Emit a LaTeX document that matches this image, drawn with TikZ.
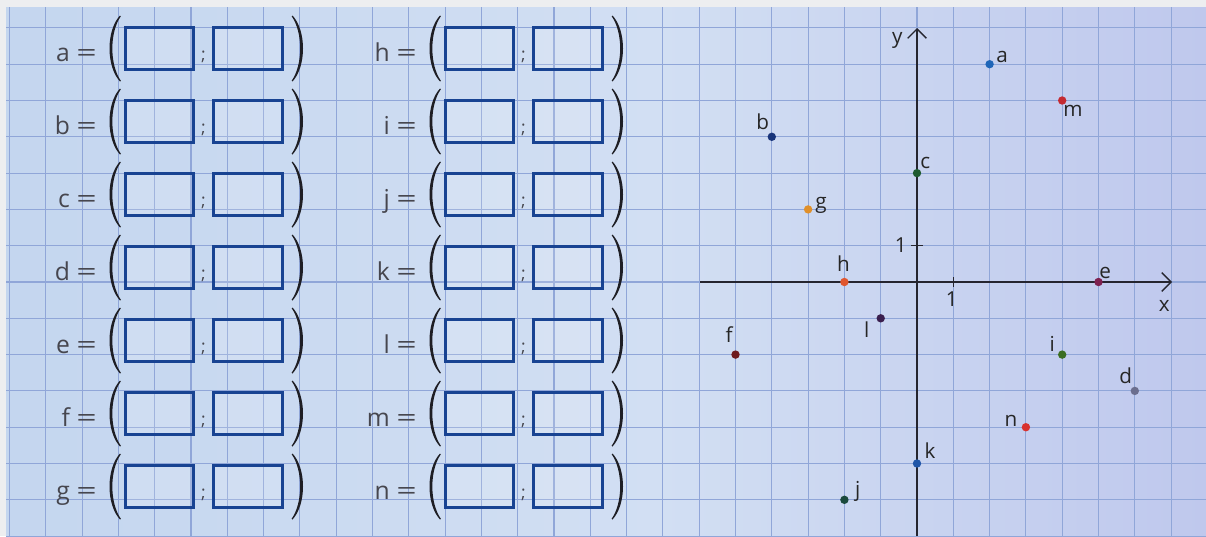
\documentclass[tikz,border=0pt]{standalone}
\usepackage{fontspec}
\setmainfont{Open Sans}
\usetikzlibrary{arrows.meta}
\definecolor{bgL}{HTML}{C4D6EF}
\definecolor{bgM}{HTML}{D2DFF3}
\definecolor{bgR}{HTML}{BFC8ED}
\definecolor{edgec}{HTML}{EDEEF0}
\definecolor{gridc}{HTML}{90A6D8}
\definecolor{boxc}{HTML}{184392}
\definecolor{parc}{HTML}{1E1E24}
\definecolor{txtc}{HTML}{46464E}
\definecolor{axc}{HTML}{25252F}
\definecolor{ca}{HTML}{1F66B8}
\definecolor{cb}{HTML}{18347A}
\definecolor{cc}{HTML}{1E5A30}
\definecolor{cd}{HTML}{6B6E8E}
\definecolor{ce}{HTML}{7E2150}
\definecolor{cf}{HTML}{6E1A1E}
\definecolor{cg}{HTML}{E0902A}
\definecolor{ch}{HTML}{E0562E}
\definecolor{ci}{HTML}{3B6E22}
\definecolor{cj}{HTML}{1B4A3C}
\definecolor{ck}{HTML}{1F55A8}
\definecolor{cl}{HTML}{3A1E4E}
\definecolor{cm}{HTML}{C42A32}
\definecolor{cn}{HTML}{D8322E}
\tikzset{
  gridline/.style={draw=gridc, line width=0.8pt},
  ansbox/.style={draw=boxc, line width=2.2pt, fill=white, fill opacity=0.15, text opacity=1,
    minimum width=51.5pt, minimum height=31.5pt, inner sep=0pt},
  eqlbl/.style={anchor=base east, text=txtc, font=\fontsize{18.5}{20}\selectfont, inner sep=0pt},
  semi/.style={anchor=base, text=txtc, font=\fontsize{13}{15}\selectfont, inner sep=0pt},
  dotp/.style={circle, inner sep=0pt, minimum size=6.3pt},
  plbl/.style={anchor=base, text=black!85, font=\fontsize{15.5}{17}\selectfont, inner sep=0pt},
  axis/.style={draw=axc, line width=1pt},
  lparen/.pic={\fill[parc] (6,-33) .. controls (-8,-18) and (-8,18) .. (6,33) -- (6.8,32.2) .. controls (-4.5,16) and (-4.5,-16) .. (6.8,-32.2) -- cycle;},
  rparen/.pic={\fill[parc] (-6,-33) .. controls (8,-18) and (8,18) .. (-6,33) -- (-6.8,32.2) .. controls (4.5,16) and (4.5,-16) .. (-6.8,-32.2) -- cycle;}
}
\begin{document}
\begin{tikzpicture}[x=0.75pt, y=-0.75pt]
\useasboundingbox (0,0) rectangle (1206,536);
% page edge and paper
\fill[edgec] (0,0) rectangle (1206,536);
\shade[left color=bgL, right color=bgM] (6,7) rectangle (660,536);
\shade[left color=bgM, right color=bgR] (660,7) rectangle (1206,536);
% grid
\begin{scope}
  \clip (6,7) rectangle (1206,536);
  \foreach \k in {-25,...,8} \draw[gridline] ({917+36.3*\k},7) -- ({917+36.3*\k},536);
  \foreach \k in {-7,...,7} \draw[gridline] (6,{282+36.3*\k}) -- (1206,{282+36.3*\k});
\end{scope}
% answer rows
\foreach \nm/\r/\c in {a/0/0,b/1/0,c/2/0,d/3/0,e/4/0,f/5/0,g/6/0,h/0/1,i/1/1,j/2/1,k/3/1,l/4/1,m/5/1,n/6/1}{
  \pgfmathsetmacro\yy{48.5+73*\r}
  \pgfmathsetmacro\xo{320*\c}
  \node[eqlbl] (lbl-\nm) at (97+\xo,\yy+13) {\nm\ \scalebox{1.45}[1]{=}};
  \pic at (114+\xo,\yy) {lparen};
  \node[ansbox] (bx1-\nm) at (159.5+\xo,\yy) {};
  \node[semi] (sc-\nm) at (203.5+\xo,\yy+12) {;};
  \node[ansbox] (bx2-\nm) at (248+\xo,\yy) {};
  \pic at (298.5+\xo,\yy) {rparen};
}
% axes
\coordinate (xl) at (700,282);
\coordinate (xr) at (1172,282);
\coordinate (yb) at (917,536);
\coordinate (yt) at (917,28);
\draw[axis, -{Straight Barb[length=7pt,width=14pt,line width=1pt]}] (xl) -- (xr);
\draw[axis, -{Straight Barb[length=7pt,width=14pt,line width=1pt]}] (yb) -- (yt);
\coordinate (tx1) at (953.3,277);
\coordinate (tx2) at (953.3,287);
\coordinate (ty1) at (911,245.7);
\coordinate (ty2) at (923,245.7);
\draw[axis] (tx1) -- (tx2);
\draw[axis] (ty1) -- (ty2);
\node[plbl] (one-x) at (951.7,306.7) {1};
\node[plbl] (one-y) at (900.7,252.3) {1};
\node[plbl] (lab-x) at (1164.3,311.7) {x};
\node[plbl] (lab-y) at (897.3,43.3) {y};
% points
\begin{scope}[shift={(917,282)}, x=27.225pt, y=27.225pt]
\foreach \nm/\gx/\gy/\dx/\dy in {a/2/6/9.3/1.1, b/-4/4/-6.8/5.6, c/0/3/6.2/3.6, d/6/-3/-6.8/5.7,
  e/5/0/4.9/2.8, f/-5/-2/-4.7/8.9, g/-3/2/9.7/0.8, h/-2/0/-0.8/7.7, i/4/-2/-7.4/2.7,
  j/-2/-6/10.0/2.3, k/0/-5/9.8/3.4, l/-1/-1/-10.5/-14.3, m/4/5/8.1/-12.2, n/3/-4/-11.2/0.4}{
  \node[dotp, fill=c\nm] (p-\nm) at (\gx,\gy) {};
  \node[plbl] (t-\nm) at ([xshift=\dx pt, yshift=\dy pt]p-\nm.center) {\nm};
}
\end{scope}
\end{tikzpicture}
\end{document}
